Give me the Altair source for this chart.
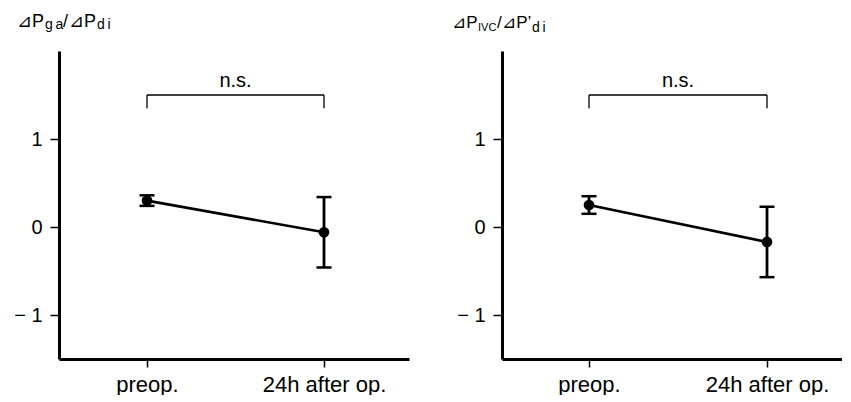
import altair as alt
import pandas as pd

# ---- data ----
groups = ["preop.", "24h after op."]
ga_mean = [0.30, -0.06]
ga_err = [0.06, 0.40]
ivc_mean = [0.25, -0.17]
ivc_err = [0.10, 0.40]
bracket_top = 1.50
bracket_leg = 1.35
y_ticks = [-1, 0, 1]
y_domain = [-1.5, 2.0]
sig_label = "n.s."

FONT = "Liberation Sans, DejaVu Sans, sans-serif"
H = 308


def panel(mean, err, width, xdomain, title_parts):
    idx = list(range(len(groups)))
    df = pd.DataFrame({
        "idx": idx,
        "group": groups,
        "mean": mean,
        "lo": [m - e for m, e in zip(mean, err)],
        "hi": [m + e for m, e in zip(mean, err)],
    })
    label_expr = " : ".join(
        [f"datum.value == {i} ? '{g}'" for i, g in enumerate(groups[:-1])] + [f"'{groups[-1]}'"])
    xscale = alt.Scale(domain=xdomain, nice=False, zero=False)
    yscale = alt.Scale(domain=y_domain, nice=False, zero=False)
    xaxis = alt.Axis(title=None, values=idx, labelExpr=label_expr, labelAngle=0,
                     labelFontSize=22, labelFont=FONT, labelColor="black",
                     domainWidth=3, domainColor="black", tickColor="black",
                     tickWidth=1.5, tickSize=8, labelPadding=7, grid=False,
                     labelFlush=False, labelOverlap=False)
    yaxis = alt.Axis(title=None, values=y_ticks, labelFontSize=20, labelFont=FONT,
                     labelColor="black", domainWidth=3, domainColor="black",
                     tickColor="black", tickWidth=1.5, tickSize=9, labelPadding=8,
                     grid=False,
                     labelExpr="datum.value < 0 ? '\u2212 ' + abs(datum.value) : datum.label")

    def X(field="idx"):
        return alt.X(f"{field}:Q", scale=xscale, axis=xaxis)

    def Y(field):
        return alt.Y(f"{field}:Q", scale=yscale, axis=yaxis)

    base = alt.Chart(df)
    line = base.mark_line(color="black", strokeWidth=2.6).encode(x=X(), y=Y("mean"))
    bars = base.mark_rule(color="black", strokeWidth=2.8).encode(x=X(), y=Y("lo"), y2="hi:Q")
    cap_lo = base.mark_tick(color="black", thickness=2.5, size=15, opacity=1,
                            orient="horizontal").encode(x=X(), y=Y("lo"))
    cap_hi = base.mark_tick(color="black", thickness=2.5, size=15, opacity=1,
                            orient="horizontal").encode(x=X(), y=Y("hi"))
    pts = base.mark_point(filled=True, color="black", opacity=1, size=115).encode(
        x=X(), y=Y("mean"))

    br = pd.DataFrame({"a": [idx[0]], "b": [idx[-1]], "y": [bracket_top]})
    br_h = alt.Chart(br).mark_rule(color="black", strokeWidth=1.3).encode(
        x=X("a"), x2="b:Q", y=Y("y"))
    legs = pd.DataFrame({"idx": idx, "y": [bracket_leg] * len(idx),
                         "y2": [bracket_top] * len(idx)})
    br_v = alt.Chart(legs).mark_rule(color="black", strokeWidth=1.3).encode(
        x=X(), y=Y("y"), y2="y2:Q")
    ns = alt.Chart(pd.DataFrame({"t": [sig_label], "y": [bracket_top],
                                 "mid": [(idx[0] + idx[-1]) / 2]})).mark_text(
        fontSize=20, font=FONT, color="black", baseline="alphabetic", dy=-8).encode(
        text="t:N", x=X("mid"), y=Y("y"))

    layers = [line, bars, cap_lo, cap_hi, pts, br_h, br_v, ns]
    for txt, px, py, size in title_parts:
        layers.append(
            alt.Chart(pd.DataFrame({"t": [txt]})).mark_text(
                fontSize=size, font=FONT, color="black", align="left",
                baseline="alphabetic").encode(
                text="t:N", x=alt.value(px), y=alt.value(py)))
    return alt.layer(*layers).properties(width=width, height=H)


TP = "\u22bfP"
TN = "\u2009"
left = panel(ga_mean, ga_err, 350, [-88 / 177, (350 - 88) / 177], [
    (TP, -42, -24, 18),
    ("g" + TN + "a", -14, -22, 14),
    ("/", 4, -24, 18),
    (TP, 10, -24, 18),
    ("d" + TN + "i", 38, -22, 14),
])
right = panel(ivc_mean, ivc_err, 340, [-87 / 178, (340 - 87) / 178], [
    (TP, -50, -23, 17),
    ("IVC", -24, -20, 11),
    ("/", -5, -23, 17),
    (TP + "\u2019", 0, -23, 17),
    ("d" + TN + "i", 30, -19, 14),
])

chart = alt.hconcat(left, right, spacing=43).properties(
    padding={"left": 5, "top": 5, "right": 0, "bottom": 0}
).configure(background="white").configure_view(stroke=None)

chart.save("out.html", embed_options={"renderer": "svg", "actions": False})
